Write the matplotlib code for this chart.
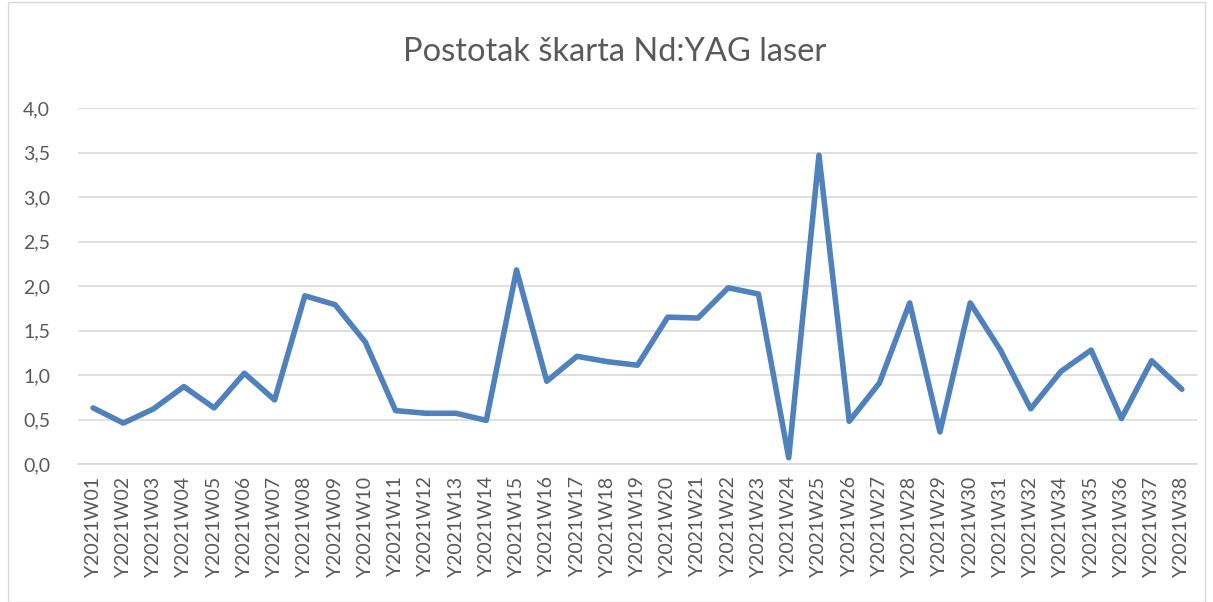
import matplotlib
matplotlib.use("Agg")
import matplotlib.pyplot as plt
from matplotlib.patches import Rectangle
from matplotlib.ticker import FuncFormatter, MultipleLocator

weeks = [f"Y2021W{i:02d}" for i in range(1, 33)] + [f"Y2021W{i:02d}" for i in range(34, 39)]
values = [0.63, 0.46, 0.62, 0.87, 0.63, 1.02, 0.72, 1.89, 1.79, 1.37,
          0.60, 0.57, 0.57, 0.49, 2.18, 0.93, 1.21, 1.15, 1.11, 1.65,
          1.64, 1.98, 1.91, 0.07, 3.47, 0.48, 0.91, 1.81, 0.36, 1.81,
          1.28, 0.62, 1.04, 1.28, 0.51, 1.16, 0.84]
title = "Postotak škarta Nd:YAG laser"

plt.rcParams['font.family'] = ['Lato', 'DejaVu Sans']
W, H = 1213, 602
fig = plt.figure(figsize=(W / 100, H / 100), dpi=100)
fig.patches.append(Rectangle((8 / W, 0), (1205 - 8) / W, 1 - 2 / H, transform=fig.transFigure,
                             fill=False, edgecolor='#d9d9d9', linewidth=1))

ax = fig.add_axes([78 / W, 1 - 464 / H, (1197 - 78) / W, (464 - 108) / H])
x = list(range(len(weeks)))
ax.plot(x, values, color='#4f81bd', linewidth=4, solid_joinstyle='round',
        solid_capstyle='round')
ax.set_xlim(-0.5, len(weeks) - 0.5)
ax.set_ylim(0, 4.0)
ax.yaxis.set_major_locator(MultipleLocator(0.5))
ax.yaxis.set_major_formatter(FuncFormatter(lambda v, p: f"{v:.1f}".replace('.', ',')))
ax.grid(axis='y', color='#d9d9d9', linewidth=1.2)
ax.set_axisbelow(True)
for s in ['top', 'right', 'left']:
    ax.spines[s].set_visible(False)
ax.spines['bottom'].set_color('#d9d9d9')
ax.spines['bottom'].set_linewidth(1.2)
ax.set_xticks(x)
ax.set_xticklabels(weeks, rotation=90, fontsize=14, color='#595959')
ax.tick_params(axis='x', length=0, pad=9)
ax.tick_params(axis='y', length=0, labelsize=14, labelcolor='#595959', pad=20)
fig.text(0.5 * (402 + 828) / W, 1 - 52 / H, title, ha='center', va='center',
         fontsize=23.5, color='#595959')
fig.savefig('out.png', dpi=100)
